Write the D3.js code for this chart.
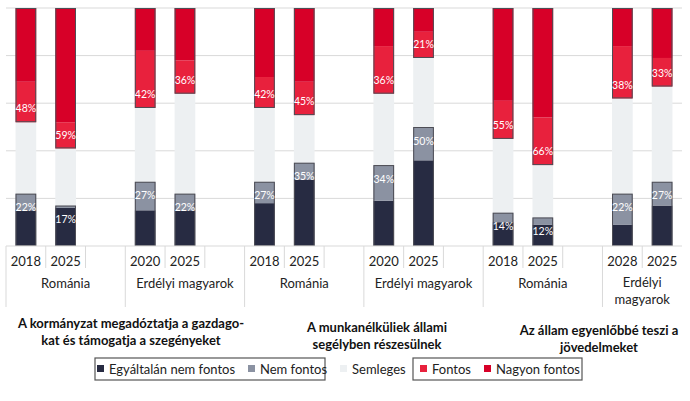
<!DOCTYPE html>
<html>
<head>
<meta charset="utf-8">
<script src="https://cdn.jsdelivr.net/npm/d3@7"></script>
<style>
  body { margin: 0; background: #fff; }
  text { font-family: Lato, "Open Sans", sans-serif; }
</style>
</head>
<body>
<div id="chart"></div>
<script>
// slots along the x axis, "" = empty spacer slot
var years = ["2018","2025","","2020","2025","","2018","2025","","2020","2025","","2018","2025","","2028","2025"];
var groups = [
  {name: "Románia", span: 3},
  {name: "Erdélyi magyarok", span: 3},
  {name: "Románia", span: 3},
  {name: "Erdélyi magyarok", span: 3},
  {name: "Románia", span: 3},
  {name: "Erdélyi magyarok", span: 2}
];
var questions = [
  ["A kormányzat megadóztatja a gazdago-", "kat és támogatja a szegényeket"],
  ["A munkanélküliek állami", "segélyben részesülnek"],
  ["Az állam egyenlőbbé teszi a", "jövedelmeket"]
];
var barSlots = [0,1,3,4,6,7,9,10,12,13,15,16];

var seriesNames = ["Egyáltalán nem fontos", "Nem fontos", "Semleges", "Fontos", "Nagyon fontos"];
var seriesColors = ["#272b42", "#8b92a2", "#edf0f2", "#e8213d", "#d70028"];

var egyaltalan = [15,16,15,15,18,28,19,36,10, 9, 9,17];
var nemFontos  = [ 7, 1,12, 7, 9, 7,15,14, 4, 3,13,10];
var semleges   = [30,24,31,42,31,20,30,29,31,22,40,40];
var fontos     = [17,11,24,14,13,14,20,11,16,20,22,12];
var nagyon     = [31,48,18,22,29,31,16,10,39,46,16,21];

var W = 690, H = 401;
var plotLeft = 6, plotRight = 682, plotTop = 8, plotBottom = 246;

var rows = barSlots.map(function(s, i) {
  return {slot: s, a: egyaltalan[i], b: nemFontos[i], c: semleges[i], d: fontos[i], e: nagyon[i]};
});
var keys = ["a","b","c","d","e"];

var svg = d3.select("#chart").append("svg")
  .attr("width", W)
  .attr("height", H);

var x = d3.scaleBand()
  .domain(d3.range(years.length))
  .range([plotLeft, plotRight])
  .paddingInner(0.48)
  .paddingOuter(0.24);
var step = x.step();

var y = d3.scaleLinear().domain([0, 100]).range([plotBottom, plotTop]);

// gridlines
svg.append("g").selectAll("line")
  .data(d3.range(20, 101, 20))
  .join("line")
    .attr("x1", plotLeft).attr("x2", plotRight)
    .attr("y1", function(d) { return y(d); })
    .attr("y2", function(d) { return y(d); })
    .attr("stroke", "#d9d9d9")
    .attr("stroke-width", 1);

// stacked bars
var stacked = d3.stack().keys(keys)(rows);
svg.append("g").selectAll("g")
  .data(stacked)
  .join("g")
    .attr("fill", function(d, i) { return seriesColors[i]; })
  .selectAll("rect")
  .data(function(d) { return d; })
  .join("rect")
    .attr("x", function(d) { return x(d.data.slot); })
    .attr("width", x.bandwidth())
    .attr("y", function(d) { return y(d[1]); })
    .attr("height", function(d) { return y(d[0]) - y(d[1]); });

// outlines around the low pair and the high pair
var outline = svg.append("g")
  .attr("fill", "none")
  .attr("stroke", "#4d4d55")
  .attr("stroke-width", 1);
rows.forEach(function(r) {
  var low = r.a + r.b, high = r.d + r.e;
  outline.append("rect")
    .attr("x", x(r.slot) + 0.5).attr("width", x.bandwidth() - 1)
    .attr("y", y(low) + 0.5).attr("height", y(0) - y(low) - 1);
  outline.append("rect")
    .attr("x", x(r.slot) + 0.5).attr("width", x.bandwidth() - 1)
    .attr("y", y(100) + 0.5).attr("height", y(100 - high) - y(100) - 1);
});

// value labels
var lab = svg.append("g")
  .attr("fill", "#fff")
  .attr("font-size", 10.5)
  .attr("text-anchor", "middle")
  .style("font-family", "'DejaVu Sans', sans-serif");
rows.forEach(function(r) {
  var cx = x(r.slot) + x.bandwidth() / 2;
  var low = r.a + r.b, high = r.d + r.e;
  lab.append("text").attr("x", cx).attr("y", y(low) + 14).attr("dy", "0.35em").text(low + "%");
  lab.append("text").attr("x", cx).attr("y", y(100 - high) - 13.5).attr("dy", "0.35em").text(high + "%");
});

// axis line
svg.append("line")
  .attr("x1", plotLeft).attr("x2", plotRight)
  .attr("y1", plotBottom).attr("y2", plotBottom)
  .attr("stroke", "#d9d9d9");

// category separators
var axisG = svg.append("g").attr("stroke", "#d9d9d9");
var groupStarts = [];
var acc = 0;
groups.forEach(function(g) { groupStarts.push(acc); acc += g.span; });
d3.range(years.length).forEach(function(i) {
  var xx = plotLeft + i * step;
  var isGroup = groupStarts.indexOf(i) >= 0;
  axisG.append("line")
    .attr("x1", xx).attr("x2", xx)
    .attr("y1", plotBottom).attr("y2", isGroup ? 307 : 268);
});

// year labels
svg.append("g").selectAll("text")
  .data(years)
  .join("text")
    .attr("x", function(d, i) { return x(i) + x.bandwidth() / 2; })
    .attr("y", 261)
    .attr("dy", "0.35em")
    .attr("text-anchor", "middle")
    .attr("font-size", 13)
    .attr("fill", "#222")
    .text(function(d) { return d; });

// group labels
groups.forEach(function(g, i) {
  var gx = plotLeft + (groupStarts[i] + g.span / 2) * step;
  var t = svg.append("text")
    .attr("x", gx)
    .attr("text-anchor", "middle")
    .attr("font-size", 13)
    .attr("fill", "#222");
  if (g.span < 3) {
    var parts = g.name.split(" ");
    t.attr("y", 282).attr("dy", "0.35em");
    t.append("tspan").attr("x", gx).text(parts[0]);
    t.append("tspan").attr("x", gx).attr("dy", 17).text(parts[1]);
  } else {
    t.attr("y", 283).attr("dy", "0.35em").text(g.name);
  }
});

// question titles
var titleX = [131, 377, 599];
var titleY = [323, 327, 330];
questions.forEach(function(q, i) {
  var t = svg.append("text")
    .attr("text-anchor", "middle")
    .attr("font-size", 13)
    .attr("font-weight", "bold")
    .attr("fill", "#111");
  q.forEach(function(line, j) {
    t.append("tspan")
      .attr("x", titleX[i])
      .attr("y", titleY[i] + j * 17)
      .attr("dy", "0.35em")
      .text(line);
  });
});

// legend
var legX = [97, 248, 340, 420, 484];
var legend = svg.append("g");
legend.append("rect").attr("x", 95).attr("y", 358).attr("width", 230).attr("height", 22)
  .attr("fill", "none").attr("stroke", "#555").attr("stroke-width", 1.2);
legend.append("rect").attr("x", 413).attr("y", 358).attr("width", 169).attr("height", 22)
  .attr("fill", "none").attr("stroke", "#555").attr("stroke-width", 1.2);
seriesNames.forEach(function(name, i) {
  legend.append("rect")
    .attr("x", legX[i]).attr("y", 365)
    .attr("width", 7).attr("height", 7)
    .attr("fill", seriesColors[i]);
  legend.append("text")
    .attr("x", legX[i] + 12).attr("y", 369)
    .attr("dy", "0.35em")
    .attr("font-size", 13)
    .attr("fill", "#222")
    .text(name);
});
</script>
</body>
</html>
